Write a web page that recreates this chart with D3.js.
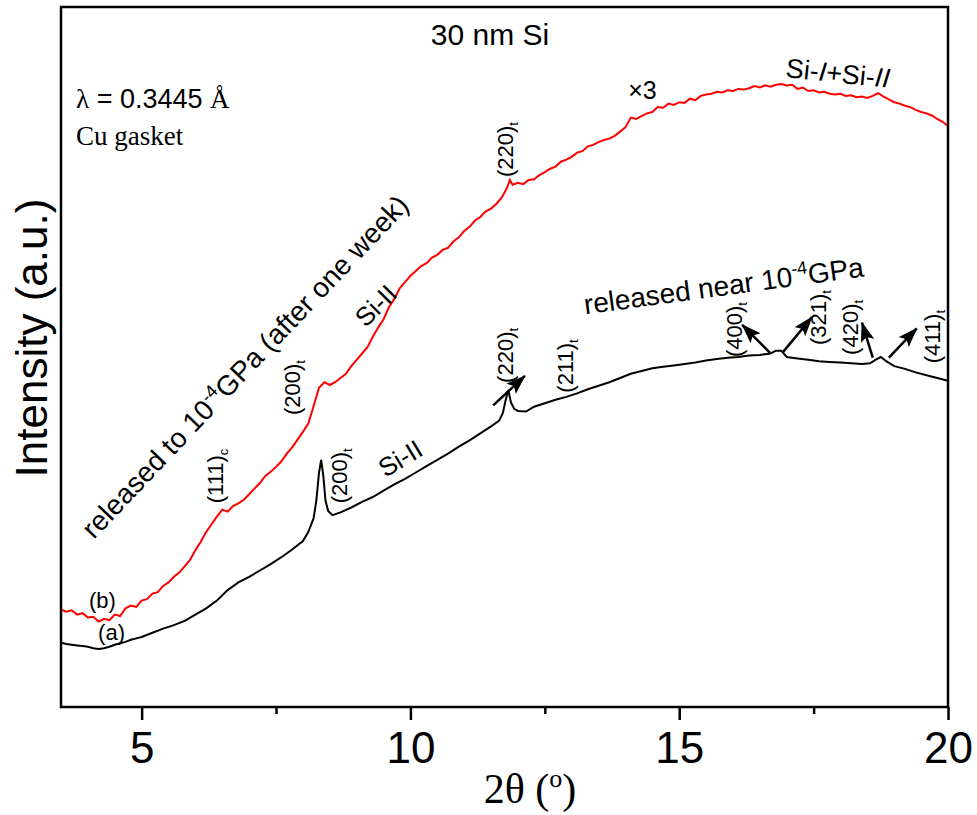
<!DOCTYPE html>
<html>
<head>
<meta charset="utf-8">
<script src="https://cdn.jsdelivr.net/npm/d3@7"></script>
<style>
  body { margin: 0; background: #fff; }
  svg text { font-family: "Liberation Sans", Arial, sans-serif; fill: #000; }
  .serif { font-family: "Liberation Serif", "Times New Roman", serif; }
</style>
</head>
<body>
<svg id="chart" width="977" height="815"></svg>
<script>
// 2theta (deg), intensity (a.u.)
var curveA = [ // (a) released near 1e-4 GPa, black
  [3.5,9.2],[3.6,9.0],[3.7,8.9],[3.8,8.8],[3.9,8.7],[4.0,8.6],[4.1,8.4],[4.2,8.3],[4.3,8.4],
  [4.4,8.6],[4.5,8.9],[4.6,9.1],[4.7,9.3],[4.8,9.6],[4.9,9.8],[5.0,10.0],[5.2,10.6],[5.4,11.2],
  [5.6,11.7],[5.8,12.3],[6.0,13.2],[6.2,14.1],[6.4,15.2],[6.6,16.7],[6.8,17.8],[7.0,18.6],
  [7.2,19.5],[7.4,20.4],[7.6,21.4],[7.8,22.5],[8.0,23.7],[8.1,25.0],[8.2,27.0],[8.25,29.5],
  [8.3,33.5],[8.34,35.3],[8.38,33.0],[8.42,29.5],[8.47,28.0],[8.55,27.4],[8.7,27.8],[8.9,28.5],
  [9.1,29.3],[9.3,30.0],[9.5,30.9],[9.7,31.8],[9.9,32.6],[10.1,33.5],[10.3,34.4],[10.5,35.3],
  [10.7,36.2],[10.9,37.2],[11.1,38.1],[11.3,39.1],[11.5,40.1],[11.65,40.9],[11.72,42.0],
  [11.77,43.8],[11.82,45.3],[11.87,43.5],[11.93,42.6],[12.0,42.3],[12.15,42.2],[12.3,42.9],
  [12.5,43.4],[12.7,43.9],[12.9,44.3],[13.1,44.8],[13.3,45.4],[13.5,45.9],[13.7,46.4],
  [13.9,47.0],[14.1,47.6],[14.3,48.0],[14.5,48.4],[14.7,48.6],[14.9,48.8],[15.1,49.0],
  [15.3,49.2],[15.5,49.5],[15.7,49.7],[15.9,49.9],[16.1,50.0],[16.3,50.2],[16.5,50.3],
  [16.7,50.5],[16.8,50.9],[16.9,50.9],[17.0,50.0],[17.2,49.8],[17.4,49.6],[17.6,49.4],
  [17.8,49.3],[18.0,49.2],[18.2,49.1],[18.4,49.0],[18.55,49.1],[18.65,49.6],[18.75,50.0],
  [18.85,49.4],[19.0,48.7],[19.2,48.3],[19.4,47.8],[19.6,47.4],[19.8,47.0],[20.0,46.6]
];

var curveB = [ // (b) released to 1e-4 GPa after one week, x3, red
  [3.5,13.9],[3.6,13.6],[3.7,13.8],[3.8,13.2],[3.9,13.4],[4.0,12.8],[4.1,12.9],[4.2,12.2],
  [4.3,12.6],[4.4,12.4],[4.5,13.2],[4.6,13.0],[4.7,14.1],[4.8,14.5],[4.9,14.3],[5.0,15.2],
  [5.1,15.4],[5.2,16.2],[5.3,16.4],[5.4,17.3],[5.5,17.8],[5.6,18.6],[5.7,19.2],[5.8,20.1],
  [5.9,21.0],[6.0,22.4],[6.1,23.6],[6.2,25.0],[6.3,26.1],[6.4,27.2],[6.5,28.2],[6.6,27.9],
  [6.7,28.7],[6.8,29.1],[6.9,29.6],[7.0,30.4],[7.1,31.2],[7.2,32.0],[7.3,33.0],[7.4,33.6],
  [7.5,34.3],[7.6,35.1],[7.7,36.2],[7.8,37.1],[7.9,38.2],[8.0,39.3],[8.1,40.5],[8.2,43.0],
  [8.3,45.6],[8.4,46.4],[8.5,46.0],[8.6,46.4],[8.7,47.0],[8.8,47.6],[8.9,48.7],[9.0,49.6],
  [9.1,50.5],[9.2,51.4],[9.3,52.9],[9.4,54.2],[9.5,55.4],[9.6,57.1],[9.7,58.3],[9.8,59.8],
  [9.9,60.7],[10.0,61.6],[10.1,62.3],[10.2,63.0],[10.3,63.4],[10.4,64.2],[10.5,64.6],
  [10.6,65.3],[10.7,65.6],[10.8,66.5],[10.9,67.1],[11.0,68.0],[11.1,68.6],[11.2,69.5],
  [11.3,70.0],[11.4,70.8],[11.5,71.2],[11.6,71.9],[11.7,72.8],[11.8,74.2],[11.85,75.3],
  [11.9,74.6],[12.0,74.9],[12.1,74.7],[12.2,75.3],[12.3,75.4],[12.4,76.0],[12.5,76.4],
  [12.6,76.9],[12.7,77.2],[12.8,77.9],[12.9,78.2],[13.0,78.6],[13.1,79.2],[13.2,79.4],
  [13.3,80.1],[13.4,80.3],[13.5,80.7],[13.6,81.0],[13.7,81.2],[13.8,81.6],[13.9,82.2],
  [14.0,82.8],[14.1,84.2],[14.2,84.0],[14.3,84.4],[14.4,84.8],[14.5,85.0],[14.6,85.7],
  [14.7,85.6],[14.8,86.2],[14.9,86.0],[15.0,86.4],[15.1,86.3],[15.2,86.9],[15.3,86.7],
  [15.4,87.3],[15.5,87.5],[15.6,87.6],[15.7,87.9],[15.8,87.8],[15.9,88.1],[16.0,88.0],
  [16.1,88.3],[16.2,88.2],[16.3,88.4],[16.4,88.7],[16.5,88.5],[16.6,88.8],[16.7,88.6],
  [16.8,88.9],[16.9,89.0],[17.0,88.8],[17.1,88.9],[17.2,88.3],[17.3,88.5],[17.4,88.0],
  [17.5,88.1],[17.6,87.8],[17.7,87.9],[17.8,87.6],[17.9,87.5],[18.0,87.6],[18.1,87.3],
  [18.2,87.4],[18.3,87.1],[18.4,87.2],[18.5,87.0],[18.6,87.3],[18.7,87.7],[18.8,87.2],
  [18.9,86.8],[19.0,86.4],[19.1,86.2],[19.2,85.9],[19.3,85.7],[19.4,85.3],[19.5,85.0],
  [19.6,84.8],[19.7,84.5],[19.8,84.0],[19.9,83.6],[20.0,83.0]
];

var majorTicks = [5, 10, 15, 20];
var minorTicks = [7.5, 12.5, 17.5];

// peak index labels (hkl, subscript, anchor in data coords)
var peakLabels = [
  {hkl: "(111)", sub: "c", x: 6.51, y: 29.1},
  {hkl: "(200)", sub: "t", x: 7.95, y: 41.7},
  {hkl: "(200)", sub: "t", x: 8.82, y: 29.1},
  {hkl: "(220)", sub: "t", x: 11.91, y: 46.3},
  {hkl: "(211)", sub: "t", x: 13.02, y: 44.9},
  {hkl: "(220)", sub: "t", x: 11.91, y: 75.7},
  {hkl: "(400)", sub: "t", x: 16.17, y: 50.0},
  {hkl: "(321)", sub: "t", x: 17.73, y: 51.7},
  {hkl: "(420)", sub: "t", x: 18.33, y: 50.3},
  {hkl: "(411)", sub: "t", x: 19.85, y: 49.1}
];

// arrows: from (x1,y1) to (x2,y2)
var arrows = [
  [11.54, 43.1, 12.13, 47.3],
  [16.69, 50.6, 16.17, 54.6],
  [16.93, 50.7, 17.47, 55.7],
  [18.60, 49.9, 18.40, 54.9],
  [18.90, 49.9, 19.42, 54.1]
];

var svg = d3.select("#chart");

var x = d3.scaleLinear().domain([3.5, 20]).range([61, 948]);
var y = d3.scaleLinear().domain([0, 100]).range([707, 7]);

var defs = svg.append("defs");
defs.append("clipPath").attr("id", "plot")
  .append("rect").attr("x", 61).attr("y", 7).attr("width", 887).attr("height", 700);

defs.append("marker")
  .attr("id", "head").attr("markerUnits", "userSpaceOnUse")
  .attr("viewBox", "0 0 20 14").attr("refX", 19).attr("refY", 7)
  .attr("markerWidth", 20).attr("markerHeight", 14).attr("orient", "auto")
  .append("path").attr("d", "M0,0 L20,7 L0,14 L4,7 Z").attr("fill", "#000");

var line = d3.line().x(function(d) { return x(d[0]); }).y(function(d) { return y(d[1]); });

var plot = svg.append("g").attr("clip-path", "url(#plot)");
plot.append("path").datum(curveA).attr("d", line)
  .attr("fill", "none").attr("stroke", "#000").attr("stroke-width", 2);
plot.append("path").datum(curveB).attr("d", line)
  .attr("fill", "none").attr("stroke", "#ff0000").attr("stroke-width", 2);

// axes
var xAxis = d3.axisBottom(x).tickValues(majorTicks).tickSize(13).tickPadding(12)
  .tickFormat(d3.format("d"));
var gx = svg.append("g").attr("transform", "translate(0,707)").call(xAxis);
gx.select(".domain").remove();
gx.selectAll(".tick line").attr("stroke", "#000").attr("stroke-width", 2.5);
gx.selectAll(".tick text").style("font-size", "44px").style("font-family", "'Liberation Sans', Arial, sans-serif");

var gxm = svg.append("g").attr("transform", "translate(0,707)")
  .call(d3.axisBottom(x).tickValues(minorTicks).tickSize(7).tickFormat(""));
gxm.select(".domain").remove();
gxm.selectAll(".tick line").attr("stroke", "#000").attr("stroke-width", 2.5);

// frame
svg.append("rect").attr("x", 61).attr("y", 7).attr("width", 887).attr("height", 700)
  .attr("fill", "none").attr("stroke", "#000").attr("stroke-width", 2.5);

// axis titles
var xt = svg.append("text").attr("class", "serif").attr("x", 530).attr("y", 803)
  .attr("text-anchor", "middle").style("font-size", "42px");
xt.append("tspan").text("2\u03b8 (");
xt.append("tspan").attr("dy", -16).style("font-size", "26px").text("o");
xt.append("tspan").attr("dy", 16).text(")");

svg.append("text").attr("transform", "translate(47,338) rotate(-90)")
  .attr("text-anchor", "middle").style("font-size", "44px").text("Intensity (a.u.)");

// annotations
function at(px, py) { return "translate(" + x(px) + "," + y(py) + ")"; }

svg.append("text").attr("transform", at(11.48, 94.57)).attr("text-anchor", "middle")
  .style("font-size", "30px").text("30 nm Si");

var lam = svg.append("text").attr("transform", at(3.78, 85.57)).style("font-size", "27px");
lam.append("tspan").attr("class", "serif").text("\u03bb");
lam.append("tspan").text(" = 0.3445 ");
lam.append("tspan").attr("class", "serif").text("\u00c5");

svg.append("text").attr("class", "serif").attr("transform", at(3.78, 80.29))
  .style("font-size", "27px").text("Cu gasket");

svg.append("text").attr("transform", at(14.05, 86.86)).style("font-size", "25px").text("\u00d73");

var sis = svg.append("text").attr("transform", at(16.97, 90.0) + " rotate(6)").style("font-size", "27px");
sis.append("tspan").text("Si-");
sis.append("tspan").style("font-style", "italic").text("I");
sis.append("tspan").text("+Si-");
sis.append("tspan").style("font-style", "italic").text("II");

var rel = svg.append("text").attr("transform", at(4.11, 23.86) + " rotate(-46.5)").style("font-size", "28px");
rel.append("tspan").text("released to 10");
rel.append("tspan").attr("dy", -11).style("font-size", "18px").text("-4");
rel.append("tspan").attr("dy", 11).text("GPa (after one week)");

var reln = svg.append("text").attr("transform", at(13.25, 56.1) + " rotate(-7.7)").style("font-size", "28px");
reln.append("tspan").text("released near 10");
reln.append("tspan").attr("dy", -11).style("font-size", "18px").text("-4");
reln.append("tspan").attr("dy", 11).text("GPa");

svg.append("text").attr("transform", at(9.17, 54.1) + " rotate(-45)").style("font-size", "26px").text("Si-II");
svg.append("text").attr("transform", at(9.53, 32.7) + " rotate(-31)").style("font-size", "26px").text("Si-II");

svg.append("text").attr("transform", at(4.02, 14.1)).style("font-size", "22px").text("(b)");
svg.append("text").attr("transform", at(4.19, 9.57)).style("font-size", "22px").text("(a)");

var pl = svg.selectAll(".peak").data(peakLabels).enter().append("text")
  .attr("class", "peak")
  .attr("transform", function(d) { return at(d.x, d.y) + " rotate(-90)"; })
  .style("font-size", "22px");
pl.append("tspan").text(function(d) { return d.hkl; });
pl.append("tspan").attr("dy", 5).style("font-size", "13px").text(function(d) { return d.sub; });

svg.selectAll(".arrow").data(arrows).enter().append("line")
  .attr("class", "arrow")
  .attr("x1", function(d) { return x(d[0]); }).attr("y1", function(d) { return y(d[1]); })
  .attr("x2", function(d) { return x(d[2]); }).attr("y2", function(d) { return y(d[3]); })
  .attr("stroke", "#000").attr("stroke-width", 2.5).attr("marker-end", "url(#head)");
</script>
</body>
</html>
